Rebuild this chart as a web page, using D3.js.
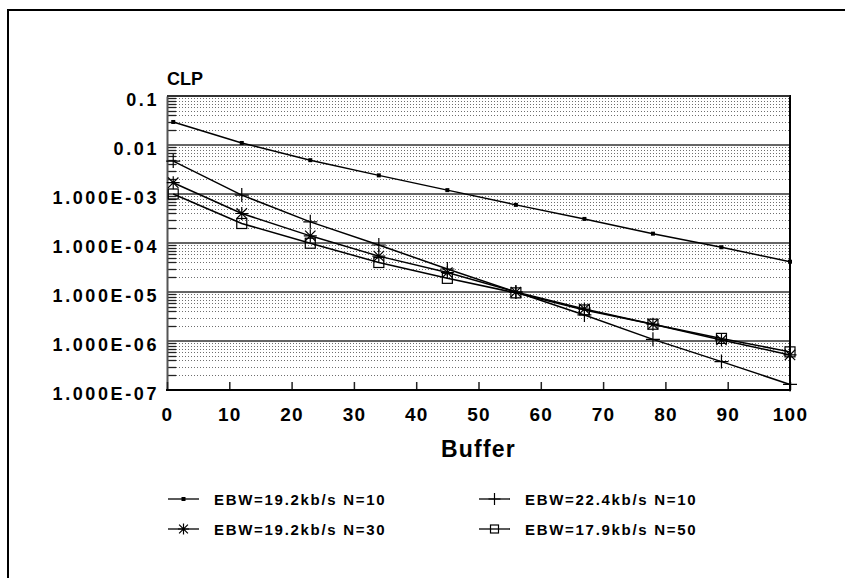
<!DOCTYPE html>
<html><head><meta charset="utf-8">
<script src="https://cdn.jsdelivr.net/npm/d3@7"></script>
<style>
body{margin:0;background:#fff;}
text{font-family:"Liberation Sans",Arial,Helvetica,sans-serif;font-weight:bold;fill:#000;}
</style></head>
<body>
<svg id="c" width="845" height="578"></svg>
<script>
const buffer = [1, 12, 23, 34, 45, 56, 67, 78, 89, 100];
const clpA = [2.95e-2, 1.10e-2, 4.9e-3, 2.4e-3, 1.2e-3, 6.0e-4, 3.1e-4, 1.55e-4, 8.2e-5, 4.15e-5];
const clpB = [4.7e-3, 9.5e-4, 2.7e-4, 9.1e-5, 2.95e-5, 1.0e-5, 3.4e-6, 1.08e-6, 3.8e-7, 1.3e-7];
const clpC = [1.7e-3, 4.0e-4, 1.4e-4, 5.4e-5, 2.5e-5, 1.0e-5, 4.5e-6, 2.2e-6, 1.05e-6, 5.2e-7];
const clpD = [1.0e-3, 2.5e-4, 9.9e-5, 4.0e-5, 1.9e-5, 9.6e-6, 4.3e-6, 2.2e-6, 1.13e-6, 6.0e-7];
const seriesNames = ["EBW=19.2kb/s N=10", "EBW=22.4kb/s N=10", "EBW=19.2kb/s N=30", "EBW=17.9kb/s N=50"];
const markers = ["dot", "plus", "star", "square"];
const yTickValues = [1e-1, 1e-2, 1e-3, 1e-4, 1e-5, 1e-6, 1e-7];
const yTickLabels = ["0.1", "0.01", "1.000E-03", "1.000E-04", "1.000E-05", "1.000E-06", "1.000E-07"];
const xTickValues = [0, 10, 20, 30, 40, 50, 60, 70, 80, 90, 100];

const svg = d3.select("#c");
const L = 167, R = 790, T = 96, B = 390;
const x = d3.scaleLinear().domain([0, 100]).range([L, R]);
const y = d3.scaleLog().domain([1e-7, 1e-1]).range([B, T]);

// outer frame
svg.append("rect").attr("x", 8).attr("y", 10).attr("width", 900).attr("height", 700)
  .attr("fill", "none").attr("stroke", "#000").attr("stroke-width", 2);

// minor grid
const minor = [];
for (let e = -7; e <= -2; e++) for (let k = 2; k <= 9; k++) minor.push(k * Math.pow(10, e));
svg.append("g").selectAll("line").data(minor).join("line")
  .attr("x1", L).attr("x2", R).attr("y1", d => Math.round(y(d)) + 0.5).attr("y2", d => Math.round(y(d)) + 0.5)
  .attr("stroke", "#6e6e6e").attr("stroke-width", 1).attr("stroke-dasharray", "1,2");
// minor ticks
svg.append("g").selectAll("line").data(minor).join("line")
  .attr("x1", L).attr("x2", L + 9).attr("y1", d => Math.round(y(d)) + 0.5).attr("y2", d => Math.round(y(d)) + 0.5)
  .attr("stroke", "#222").attr("stroke-width", 1.3);
// major grid
svg.append("g").selectAll("line").data(yTickValues).join("line")
  .attr("x1", L).attr("x2", R).attr("y1", d => y(d)).attr("y2", d => y(d))
  .attr("stroke", "#333").attr("stroke-width", 1.5);

// axes
const yAxis = d3.axisLeft(y).tickValues(yTickValues).tickFormat((d, i) => yTickLabels[i]).tickSize(0).tickPadding(8);
const gy = svg.append("g").attr("transform", `translate(${L},0)`).call(yAxis);
gy.select(".domain").attr("stroke", "#555").attr("stroke-width", 2);
gy.selectAll("text").attr("font-size", 18).attr("letter-spacing", "2.6px").attr("dy", "0.72em").attr("y", -3)
  .style("font-family", "'Liberation Sans',Arial,sans-serif").style("font-weight", "bold");

const xAxis = d3.axisBottom(x).tickValues(xTickValues).tickSize(-8).tickPadding(0);
const gx = svg.append("g").attr("transform", `translate(0,${B})`).call(xAxis);
gx.select(".domain").remove();
gx.selectAll(".tick line").attr("stroke", "#222").attr("stroke-width", 1.5);
gx.selectAll("text").attr("font-size", 19).attr("letter-spacing", "1.2px").attr("y", 31).attr("dy", 0)
  .style("font-family", "'Liberation Sans',Arial,sans-serif").style("font-weight", "bold");

// plot border: bottom & right
svg.append("line").attr("x1", L - 1).attr("x2", R + 1).attr("y1", B).attr("y2", B).attr("stroke", "#000").attr("stroke-width", 2);
svg.append("line").attr("x1", R).attr("x2", R).attr("y1", T - 1).attr("y2", B).attr("stroke", "#000").attr("stroke-width", 2);
svg.append("line").attr("x1", L).attr("x2", R).attr("y1", T).attr("y2", T).attr("stroke", "#222").attr("stroke-width", 1.5);

// titles
svg.append("text").attr("x", L).attr("y", 85).attr("font-size", 18).text("CLP");
svg.append("text").attr("x", (L + R) / 2).attr("y", 457).attr("text-anchor", "middle")
  .attr("font-size", 23).attr("letter-spacing", "1.2px").text("Buffer");

// markers
function drawMarker(g, type, cx, cy, s) {
  if (type === "dot") {
    g.append("rect").attr("x", cx - 2).attr("y", cy - 2).attr("width", 4).attr("height", 4).attr("fill", "#000");
  } else if (type === "plus") {
    const h = s / 2;
    g.append("path").attr("d", `M${cx - h},${cy}H${cx + h}M${cx},${cy - h}V${cy + h}`)
      .attr("stroke", "#000").attr("stroke-width", 1.2).attr("fill", "none");
  } else if (type === "star") {
    const h = s / 2, d = s * 0.4;
    g.append("path").attr("d", `M${cx},${cy - h}V${cy + h}M${cx - d},${cy - d}L${cx + d},${cy + d}M${cx - d},${cy + d}L${cx + d},${cy - d}M${cx - h},${cy}H${cx + h}`)
      .attr("stroke", "#000").attr("stroke-width", 1.2).attr("fill", "none");
  } else if (type === "square") {
    const h = s / 2;
    g.append("rect").attr("x", cx - h).attr("y", cy - h).attr("width", s).attr("height", s)
      .attr("stroke", "#000").attr("stroke-width", 1.2).attr("fill", "none");
  }
}

const allSeries = [clpA, clpB, clpC, clpD];
const line = d3.line().x(d => x(d[0])).y(d => y(d[1]));
const sizes = {dot: 4, plus: 14, star: 13, square: 10};
allSeries.forEach((vals, i) => {
  const pts = buffer.map((b, j) => [b, vals[j]]);
  const g = svg.append("g");
  g.append("path").datum(pts).attr("d", line).attr("fill", "none").attr("stroke", "#000").attr("stroke-width", 1.5);
  pts.forEach(p => drawMarker(g, markers[i], x(p[0]), y(p[1]), sizes[markers[i]]));
});

// legend
const legPos = [[168, 499], [479, 499], [168, 529], [479, 529]];
const legSizes = {dot: 4, plus: 12, star: 11, square: 8};
allSeries.forEach((vals, i) => {
  const [lx, ly] = legPos[i];
  const g = svg.append("g");
  g.append("line").attr("x1", lx).attr("x2", lx + 31).attr("y1", ly).attr("y2", ly).attr("stroke", "#000").attr("stroke-width", 1.3);
  drawMarker(g, markers[i], lx + 15.5, ly, legSizes[markers[i]]);
  g.append("text").attr("x", lx + 46).attr("y", ly + 5.5).attr("font-size", 15).attr("letter-spacing", "1.7px").text(seriesNames[i]);
});
</script>
</body></html>
